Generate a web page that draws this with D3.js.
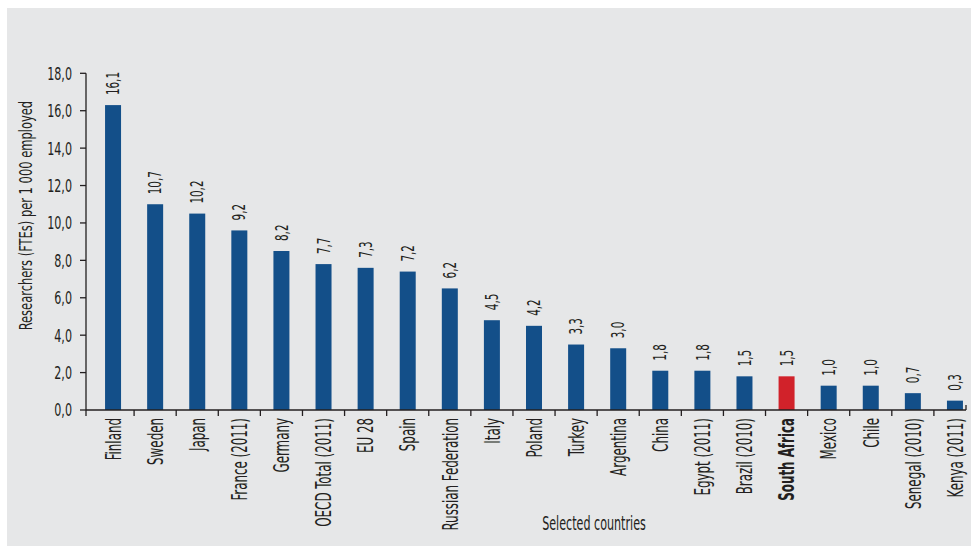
<!DOCTYPE html>
<html>
<head>
<meta charset="utf-8">
<script src="https://cdn.jsdelivr.net/npm/d3@7"></script>
<style>
  html, body { margin: 0; padding: 0; background: #ffffff; }
  svg { display: block; }
  text { font-family: "DejaVu Sans Condensed", "Liberation Sans Narrow", sans-serif; fill: #231f20; }
</style>
</head>
<body>
<svg id="chart" width="971" height="547"></svg>
<script>
// ---- Data ----
const categories = ["Finland", "Sweden", "Japan", "France (2011)", "Germany", "OECD Total (2011)", "EU 28", "Spain",
  "Russian Federation", "Italy", "Poland", "Turkey", "Argentina", "China", "Egypt (2011)", "Brazil (2010)",
  "South Africa", "Mexico", "Chile", "Senegal (2010)", "Kenya (2011)"];
// bar heights as drawn in the picture
const barValues = [16.3, 11.0, 10.5, 9.6, 8.5, 7.8, 7.6, 7.4, 6.5, 4.8, 4.5, 3.5, 3.3, 2.1, 2.1, 1.8, 1.8, 1.3, 1.3, 0.9, 0.5];
// value labels printed above the bars
const valueLabels = ["16,1", "10,7", "10,2", "9,2", "8,2", "7,7", "7,3", "7,2", "6,2", "4,5", "4,2", "3,3", "3,0",
  "1,8", "1,8", "1,5", "1,5", "1,0", "1,0", "0,7", "0,3"];
const highlighted = ["South Africa"];
const yDomain = [0, 18];
const yTickValues = [0, 2, 4, 6, 8, 10, 12, 14, 16, 18];
const yTitle = "Researchers (FTEs) per 1 000 employed";
const xTitle = "Selected countries";

// ---- Layout ----
const W = 971, H = 547;
const plot = { left: 86, right: 966, top: 73.3, bottom: 410 };
const bandRange = [92, 976];
const colors = { bg: "#e6e7e8", bar: "#134f89", hi: "#d1222a", ink: "#231f20" };

const svg = d3.select("#chart");

svg.append("rect").attr("x", 7).attr("y", 8).attr("width", W - 7).attr("height", H - 9)
  .attr("fill", colors.bg);

const x = d3.scaleBand().domain(categories).range(bandRange).padding(0);
const y = d3.scaleLinear().domain(yDomain).range([plot.bottom, plot.top]);
const barW = x.bandwidth() * 0.38;
const fmt = v => d3.format(".1f")(v).replace(".", ",");

const data = categories.map((c, i) => ({ cat: c, v: barValues[i], label: valueLabels[i] }));

// bars
svg.append("g").selectAll("rect").data(data).join("rect")
  .attr("x", d => x(d.cat) + (x.bandwidth() - barW) / 2)
  .attr("y", d => y(d.v))
  .attr("width", barW)
  .attr("height", d => y(0) - y(d.v))
  .attr("fill", d => highlighted.includes(d.cat) ? colors.hi : colors.bar);

// y axis
const yAxis = svg.append("g");
yAxis.append("line").attr("x1", plot.left).attr("x2", plot.left)
  .attr("y1", y(yDomain[1])).attr("y2", y(0))
  .attr("stroke", colors.ink).attr("stroke-width", 1.3);
const yt = yAxis.selectAll("g.tick").data(yTickValues).join("g").attr("class", "tick")
  .attr("transform", d => `translate(${plot.left},${y(d)})`);
yt.append("line").attr("x1", -6).attr("x2", 0).attr("stroke", colors.ink).attr("stroke-width", 1.3);
yt.append("text")
  .attr("transform", "translate(-14,0) scale(0.69,1)")
  .attr("text-anchor", "end").attr("dy", "0.36em")
  .style("font-size", "18px")
  .text(d => fmt(d));

// x axis
const xAxis = svg.append("g");
xAxis.append("line").attr("x1", plot.left).attr("x2", plot.right)
  .attr("y1", y(0)).attr("y2", y(0))
  .attr("stroke", colors.ink).attr("stroke-width", 1.3);
const boundaries = [plot.left].concat(categories.slice(1).map(c => x(c)));
xAxis.selectAll("line.tk").data(boundaries).join("line").attr("class", "tk")
  .attr("x1", d => d).attr("x2", d => d)
  .attr("y1", y(0)).attr("y2", y(0) + 6)
  .attr("stroke", colors.ink).attr("stroke-width", 1.3);
xAxis.append("line").attr("x1", plot.right).attr("x2", plot.right)
  .attr("y1", y(0) - 5).attr("y2", y(0))
  .attr("stroke", colors.ink).attr("stroke-width", 1.3);

// category labels
svg.append("g").selectAll("text").data(data).join("text")
  .attr("transform", d => `translate(${x(d.cat) + x.bandwidth() / 2},${y(0) + 8}) rotate(-90) scale(0.614,1)`)
  .attr("text-anchor", "end").attr("dy", "0.36em")
  .style("font-size", "21.5px")
  .style("font-weight", d => highlighted.includes(d.cat) ? "bold" : "normal")
  .text(d => d.cat);

// value labels
svg.append("g").selectAll("text").data(data).join("text")
  .attr("transform", d => `translate(${x(d.cat) + x.bandwidth() / 2},${y(d.v) - 10}) rotate(-90) scale(0.68,1)`)
  .attr("text-anchor", "start").attr("dy", "0.36em")
  .style("font-size", "17px")
  .text(d => d.label);

// axis titles
svg.append("text")
  .attr("transform", `translate(26,${(plot.top + plot.bottom) / 2 - 26}) rotate(-90) scale(0.71,1)`)
  .attr("text-anchor", "middle").attr("dy", "0.36em")
  .style("font-size", "18px")
  .text(yTitle);

svg.append("text")
  .attr("transform", `translate(${(bandRange[0] + bandRange[1]) / 2 + 60},530) scale(0.62,1)`)
  .attr("text-anchor", "middle")
  .style("font-size", "20px")
  .text(xTitle);
</script>
</body>
</html>
